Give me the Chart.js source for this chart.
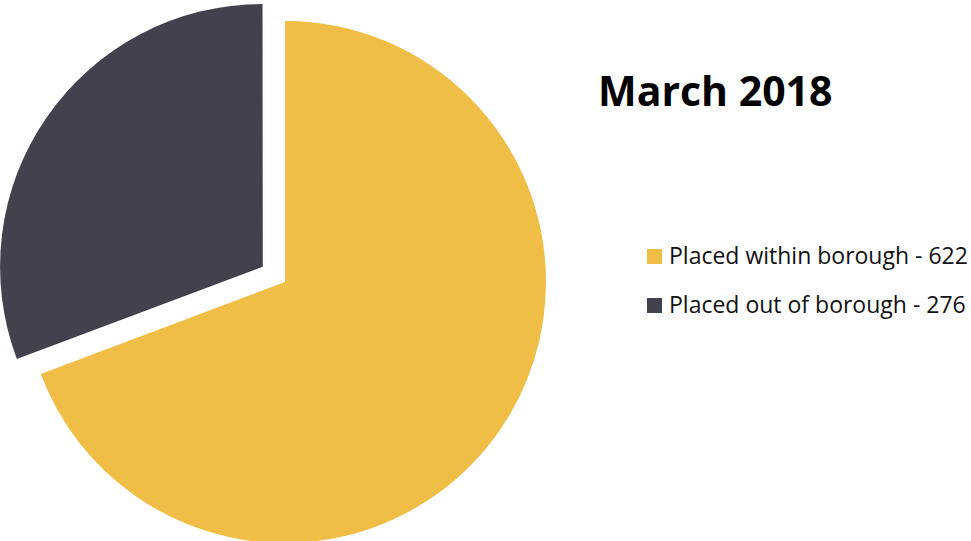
<!DOCTYPE html>
<html>
<head>
<meta charset="utf-8">
<script src="https://cdn.jsdelivr.net/npm/chart.js@4/dist/chart.umd.min.js"></script>
<style>
  html, body { margin: 0; padding: 0; width: 971px; height: 541px; overflow: hidden; background: #ffffff; }
  #wrap { position: absolute; left: 0; top: 0; width: 570px; height: 564px; }
  #title { position: absolute; left: 598px; top: 62px; font-family: "Open Sans", sans-serif; font-weight: bold; font-size: 41px; color: #000; white-space: nowrap; }
  #legend { position: absolute; left: 647px; top: 239px; font-family: "Open Sans", sans-serif; font-size: 23px; color: #111; }
  .item { position: relative; height: 49px; white-space: nowrap; }
  .sw { position: absolute; left: 0; top: 10px; width: 15px; height: 15px; }
  .lab { position: absolute; left: 22px; top: 0; line-height: 32px; }
</style>
</head>
<body>
<div id="wrap"><canvas id="c"></canvas></div>
<div id="title"></div>
<div id="legend"></div>
<script>
const chartTitle = "March 2018";
const categories = ["Placed within borough", "Placed out of borough"];
const values = [622, 276];
const colors = ["#F0BE46", "#42414E"];
const offsets = [0, 108];

document.getElementById('title').textContent = chartTitle;
const legend = document.getElementById('legend');
categories.forEach((c, i) => {
  const item = document.createElement('div');
  item.className = 'item';
  const sw = document.createElement('div');
  sw.className = 'sw';
  sw.style.background = colors[i];
  const lab = document.createElement('div');
  lab.className = 'lab';
  lab.textContent = c + ' - ' + values[i];
  item.appendChild(sw); item.appendChild(lab);
  legend.appendChild(item);
});

new Chart(document.getElementById('c'), {
  type: 'pie',
  data: {
    labels: categories,
    datasets: [{
      data: values,
      backgroundColor: colors,
      borderWidth: 0,
      offset: offsets
    }]
  },
  options: {
    responsive: true,
    maintainAspectRatio: false,
    animation: false,
    radius: 261,
    layout: { padding: 0 },
    plugins: { legend: { display: false }, tooltip: { enabled: false }, title: { display: false } }
  }
});
</script>
</body>
</html>
